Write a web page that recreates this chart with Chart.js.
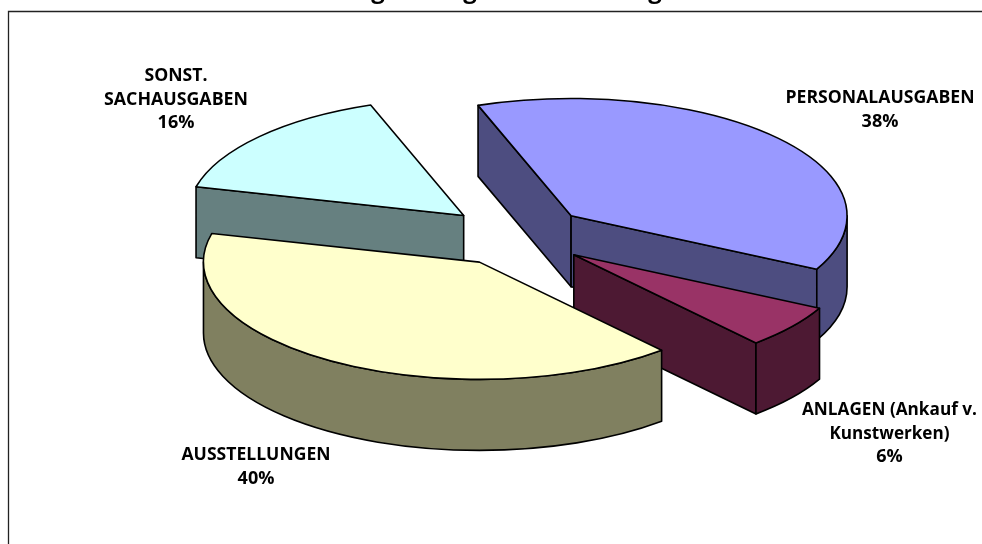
<!DOCTYPE html>
<html>
<head>
<meta charset="utf-8">
<title>Ausgaben</title>
<script src="https://cdn.jsdelivr.net/npm/chart.js@4"></script>
<style>
  html, body { margin: 0; padding: 0; background: #fff; overflow: hidden; }
  canvas { display: block; }
</style>
</head>
<body>
<canvas id="myChart" width="982" height="544"></canvas>
<script>
const categories = ["PERSONALAUSGABEN", "ANLAGEN (Ankauf v. Kunstwerken)", "AUSSTELLUNGEN", "SONST. SACHAUSGABEN"];
const shares = [38, 6, 40.4, 15.6];
const topColors = ["#9999FF", "#993366", "#FFFFCC", "#CCFFFF"];
const sideColors = ["#4D4D80", "#4D1933", "#808060", "#668080"];
const labelLines = [
  ["PERSONALAUSGABEN", "38%"],
  ["ANLAGEN (Ankauf v.", "Kunstwerken)", "6%"],
  ["AUSSTELLUNGEN", "40%"],
  ["SONST.", "SACHAUSGABEN", "16%"],
];

// where the label blocks sit: centre x and first baseline
const labelSpots = [[880, 103], [889.5, 415], [256, 460], [176, 81]];
const LABEL_WIDTHS = { "PERSONALAUSGABEN": 189, "ANLAGEN (Ankauf v.": 175, "Kunstwerken)": 120, "AUSSTELLUNGEN": 149, "SACHAUSGABEN": 144, "SONST.": 63 };
const titleDescenders = [378, 470, 655];

const RADIUS = 276;
const SQUASH = 0.425;
const DEPTH = 71;
const PULL = 72;
const FONT = "bold 18px 'Open Sans'";
const WALL_ORDER = [3, 0, 1, 2];

function screenY(chart, y) {
  const cy = (chart.chartArea.top + chart.chartArea.bottom) / 2;
  return cy + (y - cy) * SQUASH;
}

function drawWalls(chart, index) {
  const ctx = chart.ctx;
  const arc = chart.getDatasetMeta(0).data[index];
  const x = arc.x;
  const y = screenY(chart, arc.y);
  const ry = RADIUS * SQUASH;

  ctx.fillStyle = sideColors[index];
  ctx.strokeStyle = "#000";
  ctx.lineWidth = 1.6;
  ctx.lineJoin = "round";

  // radial faces, only the ones turned to the viewer
  [[arc.startAngle, Math.cos(arc.startAngle) < 0], [arc.endAngle, Math.cos(arc.endAngle) > 0]].forEach(function (face) {
    if (!face[1]) return;
    const rimX = x + Math.cos(face[0]) * RADIUS;
    const rimY = y + Math.sin(face[0]) * ry;
    ctx.beginPath();
    ctx.moveTo(x, y);
    ctx.lineTo(rimX, rimY);
    ctx.lineTo(rimX, rimY + DEPTH);
    ctx.lineTo(x, y + DEPTH);
    ctx.closePath();
    ctx.fill();
    ctx.stroke();
  });

  // outer rim, front half of the ellipse only
  const lo = Math.max(arc.startAngle, 0);
  const hi = Math.min(arc.endAngle, Math.PI);
  if (hi > lo) {
    ctx.beginPath();
    ctx.ellipse(x, y, RADIUS, ry, 0, lo, hi);
    ctx.ellipse(x, y + DEPTH, RADIUS, ry, 0, hi, lo, true);
    ctx.closePath();
    ctx.fill();
    ctx.stroke();
  }
}

const pie3d = {
  id: "pie3d",
  afterDatasetsUpdate: function (chart) {
    // explode the slices by moving the arcs, the offset option would change their radius
    chart.getDatasetMeta(0).data.forEach(function (arc) {
      const mid = (arc.startAngle + arc.endAngle) / 2;
      arc.x += Math.cos(mid) * PULL;
      arc.y += Math.sin(mid) * PULL;
    });
  },
  beforeDraw: function (chart) {
    const ctx = chart.ctx;
    ctx.save();
    ctx.strokeStyle = "#222";
    ctx.lineWidth = 1.3;
    ctx.beginPath();
    ctx.moveTo(8.5, 600);
    ctx.lineTo(8.5, 11.5);
    ctx.lineTo(990, 11.5);
    ctx.stroke();

    // the title is cut off by the top of the page, only the tails of its g show
    ctx.fillStyle = "#000";
    ctx.font = "bold 24px 'Open Sans'";
    ctx.textAlign = "center";
    ctx.textBaseline = "alphabetic";
    titleDescenders.forEach(function (x) {
      ctx.fillText("g", x, -2);
    });
    ctx.restore();
  },
  beforeDatasetsDraw: function (chart) {
    const ctx = chart.ctx;
    ctx.save();
    WALL_ORDER.forEach(function (index) {
      drawWalls(chart, index);
    });
    ctx.restore();

    const cy = (chart.chartArea.top + chart.chartArea.bottom) / 2;
    ctx.save();
    ctx.translate(0, cy);
    ctx.scale(1, SQUASH);
    ctx.translate(0, -cy);
  },
  afterDatasetsDraw: function (chart) {
    const ctx = chart.ctx;
    ctx.restore();

    // outlines of the top faces, stroked unsquashed to keep an even line
    ctx.save();
    ctx.strokeStyle = "#000";
    ctx.lineWidth = 1.6;
    ctx.lineJoin = "round";
    chart.getDatasetMeta(0).data.forEach(function (arc) {
      const y = screenY(chart, arc.y);
      ctx.beginPath();
      ctx.moveTo(arc.x, y);
      ctx.ellipse(arc.x, y, RADIUS, RADIUS * SQUASH, 0, arc.startAngle, arc.endAngle);
      ctx.closePath();
      ctx.stroke();
    });

    ctx.fillStyle = "#000";
    ctx.font = FONT;
    ctx.textAlign = "center";
    ctx.textBaseline = "alphabetic";
    labelLines.forEach(function (lines, i) {
      lines.forEach(function (line, n) {
        ctx.fillText(line, labelSpots[i][0], labelSpots[i][1] + n * 23.5, LABEL_WIDTHS[line]);
      });
    });
    ctx.restore();
  },
};

new Chart(document.getElementById("myChart"), {
  type: "pie",
  plugins: [pie3d],
  data: {
    labels: categories,
    datasets: [
      {
        data: shares,
        backgroundColor: topColors,
        borderWidth: 0,
        clip: false,
      },
    ],
  },
  options: {
    responsive: false,
    animation: false,
    rotation: -19.7,
    radius: RADIUS,
    layout: { padding: { left: 52, right: 0, top: 0, bottom: 72 } },
    plugins: {
      legend: { display: false },
      tooltip: { enabled: false },
    },
  },
});
</script>
</body>
</html>
